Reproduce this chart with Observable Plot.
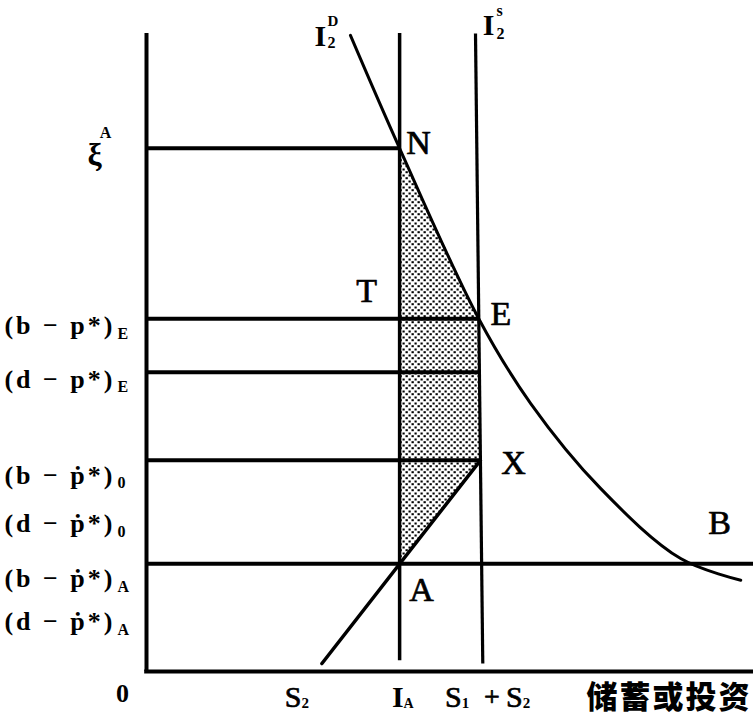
<!DOCTYPE html>
<html><head><meta charset="utf-8">
<script src="https://cdn.jsdelivr.net/npm/d3@7"></script>
<script src="https://cdn.jsdelivr.net/npm/@observablehq/plot@0.6"></script>
<style>body{margin:0;background:#fff}</style>
</head><body><div id="chart"></div>
<script>
// ---- data (arbitrary units, 0–100 on both axes) ----
const levelNames = ["(b − p*)", "(d − p*)", "(b − ṗ*)", "(d − ṗ*)", "(b − ṗ*)", "(d − ṗ*)"];
const levelSubs = ["E", "E", "0", "0", "A", "A"];
const levelValues = [55.3, 46.9, 33.1, 25.5, 16.9, 10.2];
const levelDrawn = [true, true, true, false, true, false];
const xiValue = 82.0;           // ξ^A level (point N)

const investA = 41.7;           // I_A
const savingTopX = 54.2, savingBottomX = 55.4;   // S1+S2 line ends
const savingTopY = 100, savingBottomY = 1.25;
const investTopY = 100, investBottomY = 1.7;

const demandX = [33.6, 41.7, 54.74, 63.3, 74.8, 88.0, 97.9];
const demandY = [99.7, 82.0, 55.3, 42.0, 28.7, 17.7, 14.3];

const supplyX = [28.9, 55.01];
const supplyY = [1.25, 33.1];

const s2TickX = 24.2;

// ---- derived geometry ----
const savingAt = y => savingTopX + (savingTopY - y) / (savingTopY - savingBottomY) * (savingBottomX - savingTopX);
const supplyAt = x => supplyY[0] + (x - supplyX[0]) * (supplyY[1] - supplyY[0]) / (supplyX[1] - supplyX[0]);
const yA = supplyAt(investA);
const E = {x: demandX[2], y: demandY[2]};
const X = {x: supplyX[1], y: supplyY[1]};
const N = {x: investA, y: xiValue};

const levelRows = levelNames.map((name, i) => ({
  name, sub: levelSubs[i], y: levelValues[i], drawn: levelDrawn[i],
  dot: name.includes("ṗ"),
  x2: i === 4 ? 100 : savingAt(levelValues[i])
}));
const demand = demandX.map((x, i) => ({x, y: demandY[i]}));
const shade = [
  {y: yA, x1: investA, x2: investA},
  {y: X.y, x1: investA, x2: X.x},
  {y: E.y, x1: investA, x2: E.x},
  {y: N.y, x1: investA, x2: N.x}
];

const serif = "Liberation Serif, DejaVu Serif, serif";
function txt(x, y, t, o) {
  return Plot.text([{x, y, t}], {x: "x", y: "y", text: "t", fill: "black", fontFamily: serif, ...o});
}
const heavy = {stroke: "black", strokeWidth: 0.7};

const leftLabels = levelRows.flatMap(d => {
  const off = d.dot ? 15 : 7;
  return [
    txt(0, d.y, d.name, {dx: -31, dy: off, textAnchor: "end", fontWeight: "bold", fontSize: 26}),
    txt(0, d.y, d.sub, {dx: -29, dy: off + 8, textAnchor: "start", fontWeight: "bold", fontSize: 16})
  ];
});

const plot = Plot.plot({
  width: 753, height: 717,
  marginLeft: 146, marginRight: 0, marginTop: 33, marginBottom: 46,
  x: {domain: [0, 100], axis: null},
  y: {domain: [0, 100], axis: null},
  marks: [
    Plot.areaX(shade, {y: "y", x1: "x1", x2: "x2", fill: "url(#dots)", curve: "linear"}),
    // axes
    Plot.ruleX([0], {y1: 0, y2: 100, stroke: "black", strokeWidth: 4}),
    Plot.ruleY([0], {x1: -0.3, x2: 100, stroke: "black", strokeWidth: 4}),
    // horizontal levels
    Plot.ruleY([xiValue], {x1: 0, x2: investA, stroke: "black", strokeWidth: 4}),
    Plot.ruleY(levelRows.filter(d => d.drawn), {y: "y", x1: 0, x2: "x2", stroke: "black", strokeWidth: 4}),
    // verticals
    Plot.ruleX([investA], {y1: investBottomY, y2: investTopY, stroke: "black", strokeWidth: 3.5}),
    Plot.link([0], {x1: savingTopX, y1: savingTopY, x2: savingBottomX, y2: savingBottomY, stroke: "black", strokeWidth: 3.2}),
    // demand curve and supply line
    Plot.line(demand, {x: "x", y: "y", curve: "catmull-rom", stroke: "black", strokeWidth: 3}),
    Plot.line(supplyX.map((x, i) => ({x, y: supplyY[i]})), {x: "x", y: "y", stroke: "black", strokeWidth: 3.5}),
    // left labels
    ...leftLabels,
    txt(0, xiValue, "ξ", {dx: -52, dy: 6, fontSize: 32, fontWeight: "bold"}),
    txt(0, xiValue, "A", {dx: -41, dy: -15, fontSize: 16, fontWeight: "bold"}),
    // point labels
    txt(N.x, N.y, "N", {dx: 19, dy: -5, fontSize: 34, ...heavy}),
    txt(investA, E.y, "T", {dx: -33, dy: -28, fontSize: 34, ...heavy}),
    txt(E.x, E.y, "E", {dx: 22, dy: -5, fontSize: 34, ...heavy}),
    txt(X.x, X.y, "X", {dx: 33, dy: 3, fontSize: 34, ...heavy}),
    txt(investA, yA, "A", {dx: 22, dy: 26, fontSize: 34, ...heavy}),
    txt(94.4, 23.2, "B", {fontSize: 34, ...heavy}),
    // curve labels at top
    txt(demandX[0], demandY[0], "I", {dx: -30, dy: 1, fontSize: 30, fontWeight: "bold"}),
    txt(demandX[0], demandY[0], "2", {dx: -23, dy: 7, fontSize: 16, fontWeight: "bold", textAnchor: "start"}),
    txt(demandX[0], demandY[0], "D", {dx: -23, dy: -14, fontSize: 15, fontWeight: "bold", textAnchor: "start"}),
    txt(savingTopX, savingTopY, "I", {dx: 13, dy: -8, fontSize: 30, fontWeight: "bold"}),
    txt(savingTopX, savingTopY, "s", {dx: 21, dy: -23, fontSize: 16, fontWeight: "bold", textAnchor: "start"}),
    txt(savingTopX, savingTopY, "2", {dx: 21, dy: 0, fontSize: 16, fontWeight: "bold", textAnchor: "start"}),
    // bottom labels
    txt(0, 0, "0", {dx: -24, dy: 22, fontSize: 26, fontWeight: "bold"}),
    txt(s2TickX, 0, "S", {dx: 8, dy: 26, fontSize: 30, textAnchor: "end", ...heavy}),
    txt(s2TickX, 0, "2", {dx: 8, dy: 32, fontSize: 15, fontWeight: "bold", textAnchor: "start"}),
    txt(investA, 0, "I", {dx: 4, dy: 26, fontSize: 30, fontWeight: "bold", textAnchor: "end"}),
    txt(investA, 0, "A", {dx: 4, dy: 32, fontSize: 14, fontWeight: "bold", textAnchor: "start"}),
    txt(savingBottomX, 0, "S", {dx: -21, dy: 26, fontSize: 30, textAnchor: "end", ...heavy}),
    txt(savingBottomX, 0, "1", {dx: -21, dy: 32, fontSize: 15, fontWeight: "bold", textAnchor: "start"}),
    txt(savingBottomX, 0, "+", {dx: 9, dy: 26, fontSize: 28, ...heavy}),
    txt(savingBottomX, 0, "S", {dx: 40, dy: 26, fontSize: 30, textAnchor: "end", ...heavy}),
    txt(savingBottomX, 0, "2", {dx: 40, dy: 32, fontSize: 15, fontWeight: "bold", textAnchor: "start"}),
    txt(100, 0, "储蓄或投资", {dx: -2, dy: 27, fontSize: 31, fontWeight: 900, textAnchor: "end", fontFamily: "Noto Sans CJK SC, sans-serif"})
  ]
});

// dotted fill pattern
const ns = "http://www.w3.org/2000/svg";
const defs = document.createElementNS(ns, "defs");
defs.innerHTML = `<pattern id="dots" width="6" height="6" patternUnits="userSpaceOnUse">
  <rect width="6" height="6" fill="white"/>
  <rect x="0.5" y="0.5" width="2.2" height="2" fill="black"/>
  <rect x="3.5" y="3.2" width="2.3" height="2" fill="black"/>
</pattern>`;
plot.insertBefore(defs, plot.firstChild);
d3.select(plot).selectAll("text").filter(function() { return this.textContent.startsWith("("); }).attr("letter-spacing", "3px");
d3.select(plot).selectAll("text").filter(function() { return this.textContent === "储蓄或投资"; }).attr("letter-spacing", "2px");
document.getElementById("chart").appendChild(plot);
</script>
</body></html>
